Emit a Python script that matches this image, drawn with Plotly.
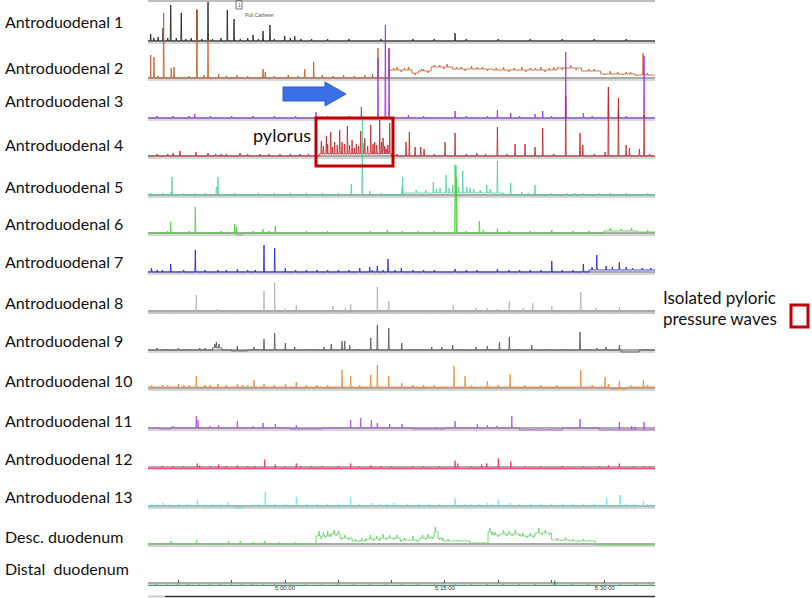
import plotly.graph_objects as go

# ---------------- data (time in minutes relative to 5:00:00, amplitude in plot units) -------------
T0, T1 = -12.85, 34.7

tick_vals = [-10, -5, 0, 5, 10, 15, 20, 25, 30]
tick_text = ["", "", "5:00:00", "", "", "5:15:00", "", "", "5:30:00"]

channel_names = ["Antroduodenal 1", "Antroduodenal 2", "Antroduodenal 3", "Antroduodenal 4",
                 "Antroduodenal 5", "Antroduodenal 6", "Antroduodenal 7", "Antroduodenal 8",
                 "Antroduodenal 9", "Antroduodenal 10", "Antroduodenal 11", "Antroduodenal 12",
                 "Antroduodenal 13", "Desc. duodenum", "Distal  duodenum"]

ch1_spikes = [(-12.60, 7), (-11.44, 13), (-10.72, 36), (-9.73, 28), (-8.26, 31), (-7.22, 41), (-5.41, 31),
              (-4.78, 22), (-3.00, 6), (-2.06, 10), (-1.41, 16), (-0.03, 5), (0.91, 5), (15.95, 8),
              (-12.3, 3), (-11.9, 4), (-11.0, 3), (-10.2, 3), (-9.3, 2), (-8.8, 3), (-7.8, 2), (-6.8, 2),
              (-6.0, 3), (-4.2, 2), (-3.5, 3), (-2.5, 2), (-1.0, 2), (0.5, 3), (1.5, 2), (2.5, 2), (4, 2),
              (6, 2), (9, 2), (12, 2), (14, 2), (17, 2), (20, 2), (23, 2), (26, 2), (29, 2), (32, 2)]
ch1_steps = []

ch2_spikes = [(-12.60, 23), (-12.29, 21), (-11.38, 65), (-10.67, 10), (-10.41, 11), (-8.26, 69), (-7.22, 38),
              (-6.22, 4), (-2.06, 9), (-1.85, 6), (1.85, 9), (2.69, 16), (8.72, 30), (9.73, 29), (33.58, 22),
              (-11.9, 2), (-9.0, 2), (-7.6, 3), (-5.5, 2), (-4.5, 3), (-3.5, 2), (-1.0, 2), (0.3, 3), (1.2, 2),
              (3.5, 3), (4.5, 2), (5.5, 3), (6.5, 2), (7.5, 3), (8.2, 4), (10.2, 2), (10.5, 3), (10.9, -2),
              (11.2, 2), (11.6, 3), (12.2, -2), (12.8, 2), (13.0, 2), (13.4, -2), (14.0, 2), (14.5, 2),
              (14.9, -2), (15.2, 3), (16.1, 2), (16.5, 2), (16.9, -2), (17.5, 3), (18.0, 2), (18.5, 2),
              (19.0, -2), (19.8, 2), (20.5, 3), (21.0, -2), (21.5, 2), (22.2, 3), (22.6, -2), (23.0, 2),
              (23.5, 2), (24.0, 3), (24.4, -2), (24.8, 2), (25.2, 3), (26.0, -2), (26.8, 3), (27.3, -2),
              (28.5, 2), (29.0, 2), (30.0, -1), (30.5, 3), (31.2, 2), (31.7, -1), (32.0, 2), (32.4, 2),
              (33.0, -1), (34.0, 2)]
ch2_steps = [(9.8, 8), (11.9, 5), (12.5, 7), (13.7, 11), (15.7, 9), (19.5, 8), (25.5, 10), (27.8, 7),
             (29.6, 4), (32.8, 3)]

ch3_spikes = [(-8.47, 4), (2.91, 6), (7.16, 11), (8.72, 60), (9.41, 93), (9.76, 70), (11.57, 3), (15.95, 7),
              (19.92, 8), (21.17, 5), (23.45, 4), (24.17, 7), (26.33, 66), (27.98, 5), (30.33, 31),
              (31.27, 11), (33.68, 62), (-12, 2), (-10.5, 2), (-9, 2), (-7, 2), (-5, 2), (-3, 2), (-1, 2),
              (1, 2), (4, 2), (6, 2), (13, 2), (17, 2), (19, 2), (22, 2), (25, 2), (28.8, 2), (32, 2)]
ch3_steps = []

ch4_spikes = [(3.41, 13), (3.88, 18), (4.29, 22), (4.66, 12), (5.13, 24), (5.60, 10), (5.85, 28), (6.29, 14),
              (6.69, 10), (7.10, 23), (7.48, 16), (8.04, 29), (8.41, 12), (8.88, 34), (9.19, 16), (9.50, 5),
              (9.82, 31), (3.6, 8), (4.0, 10), (4.45, 7), (4.9, 9), (5.35, 12), (6.05, 9), (6.5, 6), (6.9, 8),
              (7.3, 11), (7.75, 8), (8.25, 10), (8.6, 9), (9.05, 12), (9.35, 8), (9.65, 9),
              (-9.85, 5), (-8.35, 4), (-7.22, 3), (-5.5, 2), (-4.22, 3), (-2.35, 2), (-0.47, 2), (1.41, 2),
              (2.2, 2), (11.35, 14), (11.66, 24), (12.20, 9), (12.73, 9), (13.04, 7), (15.01, 14), (15.95, 23),
              (17.98, 3), (19.92, 29), (21.58, 12), (22.51, 12), (23.45, 9), (24.17, 28), (26.33, 60),
              (27.67, 23), (27.93, 11), (30.02, 4), (30.33, 69), (31.27, 58), (31.99, 11), (32.30, 8),
              (33.24, 7), (33.68, 41), (-12, 2), (-11, 2), (-10.5, 3), (-6.5, 2), (-6, 2), (-3.5, 2),
              (-1.5, 2), (0.5, 2), (10.5, 2), (14, 2), (17, 2), (18.8, 2), (20.8, 2), (25.2, 2), (29, 2),
              (34.2, 2)]
ch4_steps = [(3.2, 2), (10.0, 0)]

ch5_spikes = [(-12.6, 2), (-10.72, 3), (-10.60, 18), (-8.4, 2), (-6.44, 8), (-6.29, 18), (-4.7, 2), (6.22, 11),
              (7.25, 75), (7.95, 4), (10.98, 8), (11.04, 18), (13.91, 11), (14.54, 5), (15.10, 18), (15.73, 8),
              (16.04, 28), (16.67, 22), (17.05, 6), (17.35, 5), (18.92, 8), (19.23, 4), (19.92, 32),
              (21.17, 12), (22.20, 3), (23.45, 10), (27.2, 2), (29.5, 2), (-11.5, 2), (-9.5, 2), (-7.5, 2),
              (-2.5, 2), (-1, 2), (0.5, 2), (2, 2), (3.5, 2), (5, 2), (9, 2), (12.3, 3), (13.2, 3), (14.2, 4),
              (15.4, 5), (16.3, 6), (17.7, 4), (18.3, 3), (20.5, 2), (22.8, 2), (25, 2), (26.5, 2), (28, 2),
              (30.5, 2), (32, 2), (34, 2)]
ch5_steps = [(11.2, 2), (20.5, 0)]

ch6_spikes = [(-10.72, 11), (-8.41, 26), (-4.72, 9), (-4.57, 6), (-2.06, 4), (-0.91, 7), (9.60, 3), (15.95, 68),
              (16.1, 55), (18.23, 12), (19.92, 5), (25.02, 3), (-12, 1), (-11, 2), (-9, 2), (-7, 1), (-6, 2),
              (-3, 2), (-1.5, 2), (0.5, 1), (2, 2), (4, 2), (6, 1), (8, 2), (11, 2), (12.5, 2), (14, 2), (17, 2),
              (18.6, 3), (21, 2), (23, 2), (27, 2), (28.5, 2), (30.5, 3), (31.5, 2), (32.5, 3), (34, 2)]
ch6_steps = [(-4.5, -2), (-4.0, 0), (29.9, 2), (33.0, 1)]

ch7_spikes = [(-12.52, 4), (-10.72, 8), (-8.41, 22), (-6.29, 2), (-4.47, 3), (-1.97, 27), (-0.97, 24),
              (0.03, 4), (1.0, 2), (7.01, 4), (7.95, 5), (8.66, 6), (9.66, 13), (10.91, 4), (15.95, 3),
              (19.92, 3), (25.02, 11), (27.98, 8), (29.24, 15), (30.11, 4), (31.36, 8), (32.0, 3), (-12, 2),
              (-11.5, 2), (-9.5, 2), (-7.5, 2), (-5.5, 2), (-3.5, 2), (-2.8, 2), (2, 2), (3, 2), (4, 2), (5, 2),
              (6, 2), (8.2, 2), (9.2, 2), (10.3, 2), (12, 2), (13, 2), (14, 2), (17, 2), (18, 2), (21, 2),
              (22, 2), (23, 2), (24, 2), (26, 2), (27, 2), (28.8, 3), (30.7, 3), (32.6, 2), (33.5, 2), (34.3, 2)]
ch7_steps = [(28.5, 2)]

ch8_spikes = [(-8.32, 18), (-6.35, 4), (-1.97, 22), (-0.97, 30), (0.03, 5), (1.06, 8), (4.50, 7), (5.66, 5),
              (6.16, 9), (8.66, 26), (9.66, 4), (9.73, 12), (10.91, 3), (15.79, 8), (17.92, 5), (18.98, 5),
              (19.86, 4), (21.04, 12), (22.35, 5), (23.24, 10), (25.02, 7), (27.74, 21), (29.17, 5),
              (30.11, 3), (31.36, 6), (-12, 1), (-11, 1), (-10, 1), (-9, 1), (-7.5, 2), (-7, 2), (-5, 1),
              (-4, 1), (-3, 1), (2, 1), (3, 1), (7, 1), (12, 1), (13, 1), (14, 1), (16.5, 1), (20.5, 1),
              (24, 1), (26, 1), (28.5, 1), (32.5, 1), (33.5, 1)]
ch8_steps = [(T0, -2)]

ch9_spikes = [(-6.6, 4), (-6.44, 6), (-6.2, 4), (-4.47, 5), (-2.91, 3), (-1.97, 11), (-0.97, 17), (0.03, 7),
              (0.91, 3), (3.66, 3), (4.34, 6), (5.35, 9), (5.60, 9), (6.07, 5), (8.04, 12), (8.66, 25),
              (9.73, 22), (10.95, 7), (13.76, 3), (14.70, 3), (15.73, 5), (17.92, 3), (18.98, 4), (20.11, 8),
              (21.04, 13), (23.14, 5), (27.67, 18), (29.24, 2), (30.11, 3), (31.36, 5), (-12, 2), (-11, 1),
              (-10, 2), (-9, 1), (-8, 2), (-7.5, 2), (-5, 1), (-3.8, 1), (-2.5, 1), (1.8, 1), (2.8, 1), (7, 1),
              (12, 1), (12.8, 1), (16.5, 1), (19.3, 1), (22, 1), (24.5, 1), (26, 1), (28.5, 1), (34, 1)]
ch9_steps = [(-6.8, 2), (-5.9, 0), (-5.0, -1), (-3.5, 0), (31.5, -2), (33.2, 0)]

ch10_spikes = [(-8.32, 11), (-6.29, 3), (-4.47, 3), (-2.91, 7), (-1.97, 3), (0.03, 3), (1.06, 5), (5.35, 17),
               (6.16, 11), (8.04, 12), (8.66, 22), (9.73, 11), (10.95, 4), (15.85, 21), (16.89, 11),
               (18.98, 6), (21.11, 13), (27.74, 17), (30.02, 10), (30.33, 3), (31.36, 8), (33.61, 7),
               (-12.5, 2), (-11.5, 2), (-11, 2), (-10, 3), (-9.5, 2), (-9, 2), (-7.5, 2), (-7, 2), (-5.5, 2),
               (-4, 2), (-3.5, 2), (-1, 2), (2, 2), (3, 2), (4, 2), (7, 2), (12, 2), (13, 2), (14, 2),
               (17.5, 2), (20, 2), (22.5, 2), (24, 2), (25.5, 2), (28.8, 2), (32.5, 2), (34, 2)]
ch10_steps = [(T0, 1), (30.5, -1), (32.0, 1)]

ch11_spikes = [(-10.51, 2), (-8.32, 12), (-8.16, 8), (-7.06, 2), (-6.22, 3), (-4.47, 7), (-3.00, 2), (-2.06, 5),
               (-0.91, 4), (1.06, 4), (6.16, 8), (7.10, 10), (8.10, 8), (8.66, 5), (9.82, 4), (10.98, 4),
               (14.23, 2), (15.95, 7), (18.04, 4), (18.98, 3), (19.86, 2), (21.27, 12), (27.67, 9), (31.36, 8),
               (32.52, 4), (32.83, 3), (33.68, 8), (-12, 1), (-9.5, 1), (-5, 1), (-1.5, 1), (2, 1), (3, 1),
               (4.5, 1), (5.5, 1), (12.5, 1), (13.5, 1), (16.8, 1), (20.5, 1), (23, 1), (25, 1), (29, 1),
               (30.5, 1), (34.3, 1)]
ch11_steps = [(-11.8, -1), (-10.7, 0), (0.5, -1), (3.5, 0), (12, -1), (15, 0), (22, -2), (26, 0), (29.5, -2)]

ch12_spikes = [(-8.23, 5), (-8.0, 3), (-6.22, 4), (-4.47, 3), (-1.90, 9), (-0.91, 4), (1.06, 5), (1.5, 2),
               (6.16, 5), (8.04, 3), (10.0, 2), (15.95, 8), (16.2, 5), (18.45, 4), (18.92, 5), (20.01, 10),
               (21.17, 7), (30.33, 3), (31.36, 5), (32.7, 2), (33.7, 2), (-12.5, 1), (-11.5, 2), (-10.5, 2),
               (-9.5, 2), (-7, 2), (-5.5, 2), (-3.5, 2), (-2.8, 2), (0, 2), (2.5, 2), (3.5, 2), (5, 2), (7, 2),
               (9, 2), (12, 2), (13, 2), (14.5, 2), (17.5, 2), (22.5, 2), (24, 2), (26, 2), (28, 2), (29.5, 2),
               (34.2, 2)]
ch12_steps = [(T0, -1.5)]

ch13_spikes = [(-11.44, 3), (-8.23, 6), (-5.35, 4), (-1.85, 14), (1.06, 9), (6.16, 9), (8.16, 3), (8.88, 2),
               (10.23, 3), (15.95, 8), (18.23, 2), (18.98, 3), (20.01, 6), (21.11, 3), (30.18, 8), (31.43, 11),
               (32.83, 2), (33.61, 5), (-12.5, 2), (-12, 2), (-10.8, 2), (-10, 2), (-9.2, 2), (-7.5, 2),
               (-6.8, 2), (-6, 2), (-4.2, 2), (-3, 2), (-2.5, 2), (-1, 2), (0, 2), (2, 2), (3, 2), (4, 2), (5, 2),
               (7, 2), (9.5, 2), (11.5, 2), (12.5, 2), (13.5, 2), (14.5, 2), (16.8, 2), (17.5, 2), (19.5, 2),
               (22, 2), (23, 2), (24, 2), (25, 2), (26, 2), (27, 2), (28, 2), (29, 2), (32, 2), (34, 2)]
ch13_steps = [(-4.8, -2), (-4.0, 0)]

desc_spikes = [(-10.7, 3), (-8.3, 4), (-5.3, 3), (-4.2, 3), (-3.0, 2), (-1.9, 3), (-0.5, 2), (1.0, 2), (3.2, 5),
               (3.4, -3), (3.6, 4), (3.8, -2), (4.0, 5), (4.3, -3), (4.6, 4), (4.8, -2), (5.0, 3), (5.3, -2),
               (5.6, 3), (6.0, -2), (6.6, 2), (6.9, -1), (7.2, 3), (7.6, -2), (8.0, 4), (8.3, -2), (8.6, 3),
               (8.9, -2), (9.2, 4), (9.5, -2), (9.8, 3), (10.2, -2), (10.5, 3), (10.9, -2), (11.2, 2), (11.6, -1),
               (12.0, 4), (12.4, -2), (12.9, 3), (13.2, -2), (13.4, 4), (13.8, -2), (14.1, 5), (14.5, -2),
               (14.8, 3), (15.3, 2), (16.2, 1), (19.2, 4), (19.4, -3), (19.7, 3), (20.0, -2), (20.5, 4),
               (20.8, -2), (21.0, 3), (21.3, -2), (21.6, 4), (22.0, -2), (22.3, 3), (22.7, -2), (23.0, 3),
               (23.3, -2), (23.8, 5), (24.1, -2), (24.4, 3), (24.8, -2), (25.5, 2), (25.9, -1), (26.3, 3),
               (27.0, 2), (27.5, -1), (28.0, 2), (28.5, 1), (30.5, 1), (32.5, 1), (34.0, 1)]
desc_steps = [(2.91, 8), (4.22, 10), (5.16, 6), (6.29, 3), (7.5, 5), (8.91, 6), (10.79, 4), (12.66, 6),
              (13.6, 7), (13.98, 12), (14.35, 6), (14.73, 3), (17.35, 1), (19.04, 12), (19.51, 9), (20.17, 10),
              (22.05, 8), (23.45, 11), (25.0, 4), (26.7, 3), (29.1, -1)]

distal_spikes = [(25.3, 5), (-12, 1), (-11, 1), (-10, 1), (-9, 1), (-8, 1), (-7, 1), (-6, 1), (-5, 1), (-4, 1),
                 (-3, 1), (-2, 1), (-1, 1), (0.5, 1), (2, 1), (3.5, 1), (5, 1), (6.5, 1), (8, 1), (9.5, 1),
                 (11, 1), (12.5, 1), (14, 1), (16, 1), (17.5, 1), (19, 1), (20.5, 1), (22, 1), (23.5, 1),
                 (27, 1), (28.5, 1), (30, 1), (31.5, 1), (33, 1), (34.3, 1)]
distal_steps = [(T0, -2.5)]

# ---------------- styling / layout (not data) -------------
W, H = 812, 598
PL, PR = 148, 655
channel_base = [41, 78, 118, 156, 195, 233, 272, 311, 350, 388, 428, 467, 506, 544, 583]
label_y = [22, 67, 100, 144, 186, 224, 262, 302, 340, 380, 420, 458, 496, 536, 568]
colors = ["#1c1c1c", "#c85a2a", "#9b30f0", "#c0282d", "#4fd1a5", "#4cd137", "#2222dd", "#b4b4b4",
          "#555555", "#f08a2c", "#b04fe0", "#e8375a", "#6ee6e0", "#5fd85f", "#2e8b57"]
spike_sets = [ch1_spikes, ch2_spikes, ch3_spikes, ch4_spikes, ch5_spikes, ch6_spikes, ch7_spikes, ch8_spikes,
              ch9_spikes, ch10_spikes, ch11_spikes, ch12_spikes, ch13_spikes, desc_spikes, distal_spikes]
step_sets = [ch1_steps, ch2_steps, ch3_steps, ch4_steps, ch5_steps, ch6_steps, ch7_steps, ch8_steps,
             ch9_steps, ch10_steps, ch11_steps, ch12_steps, ch13_steps, desc_steps, distal_steps]
SW = 0.045


def px_x(px):
    return (px - PL) / (PR - PL)


def px_y(py):
    return 1 - py / H


def build(spikes, steps):
    steps = sorted(steps)

    def level_at(t):
        lv = 0.0
        for st, sv in steps:
            if st <= t:
                lv = sv
            else:
                break
        return lv

    events = [(t, 1, a) for t, a in spikes] + [(t, 0, v) for t, v in steps if t > T0]
    events.sort(key=lambda e: (e[0], e[1]))
    xs, ys = [T0], [level_at(T0)]
    for t, kind, val in events:
        if kind == 0:
            xs += [t, t]
            ys += [ys[-1], val]
        else:
            lv = level_at(t)
            xs += [t - SW, t, t + SW]
            ys += [lv, lv + val, lv]
    xs.append(T1)
    ys.append(level_at(T1))
    return xs, ys


fig = go.Figure()
shapes = []
for i, base in enumerate(channel_base):
    shapes.append(dict(type="line", xref="paper", yref="y", x0=0, x1=1, y0=base + 2, y1=base + 2,
                       line=dict(color="#c8c8c8", width=1.5), layer="below"))
    shapes.append(dict(type="line", xref="paper", yref="y", x0=0, x1=1, y0=base, y1=base,
                       line=dict(color="#555555", width=1), layer="below"))
    xs, ys = build(spike_sets[i], step_sets[i])
    fig.add_trace(go.Scatter(x=xs, y=[base - v for v in ys], mode="lines",
                             line=dict(color=colors[i], width=0.85), hoverinfo="skip", showlegend=False))

# frame lines
shapes.append(dict(type="line", xref="paper", yref="paper", x0=0, x1=1, y0=px_y(1), y1=px_y(1),
                   line=dict(color="#bdbdbd", width=2)))
shapes.append(dict(type="line", xref="paper", yref="paper", x0=px_x(165), x1=1, y0=px_y(596.5), y1=px_y(596.5),
                   line=dict(color="#333333", width=1.5)))
shapes.append(dict(type="line", xref="paper", yref="paper", x0=0, x1=px_x(165), y0=px_y(596.5), y1=px_y(596.5),
                   line=dict(color="#cccccc", width=2)))
# pull catheter marker box
shapes.append(dict(type="rect", xref="paper", yref="paper", x0=px_x(236), x1=px_x(242), y0=px_y(9), y1=px_y(0.5),
                   line=dict(color="#777777", width=1)))
# pylorus box
shapes.append(dict(type="rect", xref="paper", yref="paper", x0=px_x(316), x1=px_x(393), y0=px_y(166), y1=px_y(118),
                   line=dict(color="#c00000", width=3)))
# legend box
shapes.append(dict(type="rect", xref="paper", yref="paper", x0=px_x(791), x1=px_x(808), y0=px_y(327), y1=px_y(305),
                   line=dict(color="#c00000", width=3)))
# blue arrow
pts = [(283, 87), (325, 87), (325, 82), (346, 94), (325, 106), (325, 101), (283, 101)]
path = "M " + " L ".join(f"{px_x(x):.5f},{px_y(y):.5f}" for x, y in pts) + " Z"
shapes.append(dict(type="path", xref="paper", yref="paper", path=path,
                   fillcolor="#3b6fe6", line=dict(color="#2f5fd0", width=1)))

annotations = []
for name, ly in zip(channel_names, label_y):
    annotations.append(dict(text=name, xref="paper", yref="paper", x=px_x(3), y=px_y(ly), xanchor="left",
                            yanchor="middle", showarrow=False, font=dict(family="Lato", size=16, color="#111111")))
annotations.append(dict(text="pylorus", xref="paper", yref="paper", x=px_x(282), y=px_y(135), xanchor="center",
                        yanchor="middle", showarrow=False, font=dict(family="Lato", size=18, color="#111111")))
annotations.append(dict(text="Isolated pyloric", xref="paper", yref="paper", x=px_x(661), y=px_y(297),
                        xanchor="left", yanchor="middle", showarrow=False,
                        font=dict(family="Lato", size=17, color="#111111")))
annotations.append(dict(text="pressure waves", xref="paper", yref="paper", x=px_x(661), y=px_y(318),
                        xanchor="left", yanchor="middle", showarrow=False,
                        font=dict(family="Lato", size=17, color="#111111")))
annotations.append(dict(text="1", xref="paper", yref="paper", x=px_x(239), y=px_y(5), xanchor="center",
                        yanchor="middle", showarrow=False, font=dict(family="Liberation Sans", size=5, color="#555")))
annotations.append(dict(text="Pull Catheter", xref="paper", yref="paper", x=px_x(243), y=px_y(14.5),
                        xanchor="left", yanchor="middle", showarrow=False,
                        font=dict(family="Liberation Sans", size=5, color="#555")))

fig.update_layout(
    width=W, height=H,
    margin=dict(l=PL, r=W - PR, t=0, b=0, pad=0),
    paper_bgcolor="white", plot_bgcolor="white",
    showlegend=False,
    shapes=shapes, annotations=annotations,
    xaxis=dict(range=[T0, T1], anchor="free", position=px_y(583), showgrid=False, zeroline=False,
               showline=False, ticks="inside", ticklen=3, tickcolor="#555555", tickwidth=1,
               tickvals=tick_vals, ticktext=tick_text,
               tickfont=dict(family="Liberation Sans", size=6, color="#333333")),
    yaxis=dict(range=[H, 0], visible=False, showgrid=False, zeroline=False, domain=[0, 1]),
    hovermode=False,
)

fig.write_html("out.html", config={"displayModeBar": False},
               post_script="document.body.style.margin='0';document.body.style.padding='0';")
